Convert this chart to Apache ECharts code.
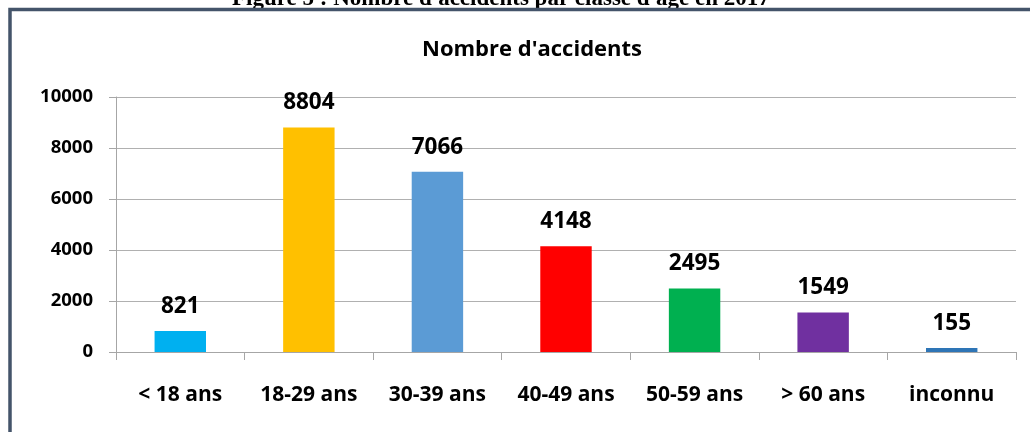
<!DOCTYPE html>
<html>
<head>
<meta charset="utf-8">
<script src="https://cdn.jsdelivr.net/npm/echarts@6/dist/echarts.min.js"></script>
<style>
  html, body { margin: 0; padding: 0; background: #fff; }
  #chart { width: 1030px; height: 432px; }
</style>
</head>
<body>
<div id="chart"></div>
<script>
// data
var categories = ["< 18 ans", "18-29 ans", "30-39 ans", "40-49 ans", "50-59 ans", "> 60 ans", "inconnu"];
var accidents = [821, 8804, 7066, 4148, 2495, 1549, 155];
var barColors = ["#00B0F0", "#FFC000", "#5B9BD5", "#FF0000", "#00B050", "#7030A0", "#2E75B6"];
var yTicks = [0, 2000, 4000, 6000, 8000, 10000];

var chart = echarts.init(document.getElementById("chart"));
var font = "'Open Sans', sans-serif";

var option = {
  animation: false,
  title: {
    text: "Nombre d'accidents",
    left: 527,
    top: 34,
    textAlign: "center",
    textStyle: { fontFamily: font, fontWeight: "bold", fontSize: 22, color: "#000" }
  },
  // caption of the page above, cut off by the crop, and the frame of the chart
  graphic: [
    {
      type: "text",
      left: 232,
      y: -1,
      z: 1,
      style: {
        text: "Figure 5 : Nombre d'accidents par classe d'âge en 2017",
        font: "bold 23px 'Liberation Serif', serif",
        fill: "#000",
        verticalAlign: "middle"
      }
    },
    {
      type: "rect",
      z: 10,
      shape: { x: 10, y: 9.5, width: 1100, height: 600 },
      style: { fill: "none", stroke: "#44546A", lineWidth: 3.5 }
    }
  ],
  grid: { left: 116, right: 14, top: 97, bottom: 80 },
  xAxis: {
    type: "category",
    data: categories,
    axisLine: { lineStyle: { color: "#A6A6A6", width: 1 } },
    axisTick: { show: true, length: 8, lineStyle: { color: "#A6A6A6" } },
    axisLabel: {
      margin: 33,
      interval: 0,
      fontFamily: font,
      fontWeight: "bold",
      fontSize: 21,
      color: "#000"
    }
  },
  yAxis: {
    type: "value",
    min: yTicks[0],
    max: yTicks[yTicks.length - 1],
    interval: yTicks[1] - yTicks[0],
    axisLine: { show: true, lineStyle: { color: "#A6A6A6", width: 1 } },
    axisTick: { show: true, length: 7, lineStyle: { color: "#A6A6A6" } },
    splitLine: { lineStyle: { color: "#B0B0B0", width: 1 } },
    axisLabel: {
      margin: 23,
      formatter: function (v) { return String(v); },
      fontFamily: font,
      fontWeight: "bold",
      fontSize: 18.5,
      color: "#000"
    }
  },
  series: [
    {
      type: "bar",
      barWidth: "40%",
      data: accidents.map(function (v, i) {
        return { value: v, itemStyle: { color: barColors[i] } };
      }),
      label: {
        show: true,
        position: "top",
        distance: 13,
        fontFamily: font,
        fontWeight: "bold",
        fontSize: 22.5,
        color: "#000"
      }
    }
  ]
};

chart.setOption(option);
</script>
</body>
</html>
